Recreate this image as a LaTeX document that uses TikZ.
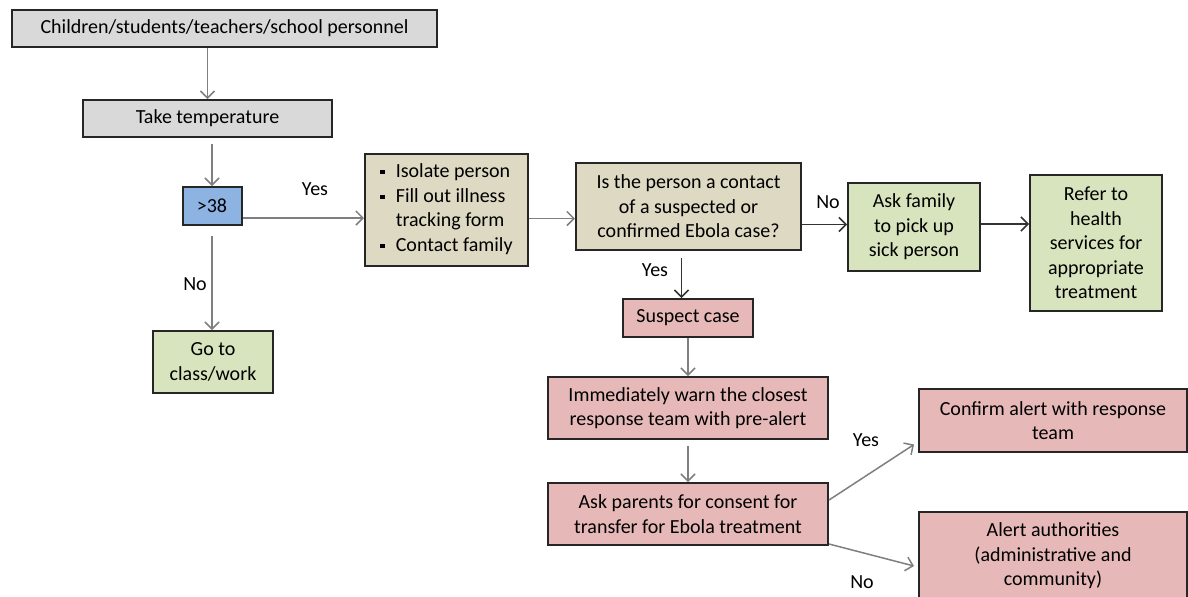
\documentclass[tikz,border=0pt]{standalone}
\usepackage{fontspec}
\setmainfont{Carlito}
\usetikzlibrary{arrows.meta}
\usetikzlibrary{positioning}
\definecolor{BoxGray}{HTML}{D9D9D9}
\definecolor{BoxBlue}{HTML}{8DB3E2}
\definecolor{BoxTan}{HTML}{DDD9C3}
\definecolor{BoxGreen}{HTML}{D7E4BD}
\definecolor{BoxPink}{HTML}{E6B9B8}
\definecolor{LineGray}{HTML}{7F7F7F}
\newcommand{\sqbul}{\raisebox{1.6pt}{\rule{2.2pt}{2.2pt}}}
\tikzset{
  flowbox/.style={draw=black!85, line width=1pt, align=center, inner sep=1pt,
    font=\fontsize{10}{12.3}\selectfont},
  graybox/.style={flowbox, fill=BoxGray},
  bluebox/.style={flowbox, fill=BoxBlue},
  tanbox/.style={flowbox, fill=BoxTan},
  greenbox/.style={flowbox, fill=BoxGreen},
  pinkbox/.style={flowbox, fill=BoxPink},
  answer/.style={font=\fontsize{10}{12.3}\selectfont, inner sep=0pt},
  flowarrow/.style={LineGray, line width=0.75pt, -{Straight Barb[length=3.5pt,width=7pt]}},
  darkarrow/.style={flowarrow, draw=black!80}
}

\begin{document}
\begin{tikzpicture}[x=0.5pt, y=-0.5pt]
  \useasboundingbox (0,0) rectangle (1188,596);
  \clip (0,0) rectangle (1188,596);

  % left column
  \node[graybox, minimum width=212.5pt, minimum height=18.5pt] (people) at (224.5,28.5)
    {Children/students/teachers/school personnel};
  \node[graybox, minimum width=124.5pt, minimum height=18.5pt] (temp) at (207.5,118.5)
    {Take temperature};
  \node[bluebox, minimum width=29.5pt, minimum height=19pt] (fever) at (212,206) {>38};
  \node[greenbox, minimum width=60pt, minimum height=31pt] (class) at (213,362)
    {Go to\\class/work};

  % isolation and question
  \node[tanbox, minimum width=81.5pt, minimum height=56pt] (isolate) at (446.5,209.5)
    {\begin{tabular}{@{}l@{\hspace{5.5pt}}l@{}}
       \sqbul & Isolate person\\
       \sqbul & Fill out illness\\
              & tracking form\\
       \sqbul & Contact family
     \end{tabular}};
  \node[tanbox, minimum width=112.5pt, minimum height=43.5pt] (contact) at (688.5,206.5)
    {Is the person a contact\\of a suspected or\\confirmed Ebola case?};
  \node[greenbox, minimum width=66pt, minimum height=44pt] (family) at (914,227)
    {Ask family\\to pick up\\sick person};
  \node[greenbox, minimum width=66pt, minimum height=68pt] (refer) at (1096,243)
    {Refer to\\health\\services for\\appropriate\\treatment};

  % suspect case branch
  \node[pinkbox, minimum width=65pt, minimum height=19pt] (suspect) at (688,318)
    {Suspect case};
  \node[pinkbox, minimum width=140pt, minimum height=31pt] (warn) at (688,408)
    {Immediately warn the closest\\response team with pre-alert};
  \node[pinkbox, minimum width=140pt, minimum height=31pt] (consent) at (688,514)
    {Ask parents for consent for\\transfer for Ebola treatment};
  \node[pinkbox, minimum width=134pt, minimum height=31.5pt] (confirm) at (1053,420.5)
    {Confirm alert with response\\team};
  \node[pinkbox, minimum width=134pt, minimum height=44pt] (authorities) at (1053,556)
    {Alert authorities\\(administrative and\\community)};

  % answers
  \node[answer] (feveryes) at (315,189) {Yes};
  \node[answer] (feverno) at (195,284) {No};
  \node[answer] (contactyes) at (655,270) {Yes};
  \node[answer] (contactno) at (828,202) {No};
  \node[answer] (consentyes) at (866,440) {Yes};
  \node[answer] (consentno) at (862,582) {No};

  % connectors
  \draw[flowarrow] (people.south -| temp.north) -- (temp.north);
  \draw[flowarrow] ([yshift=-3pt]temp.south -| fever.north) -- (fever.north);
  \draw[flowarrow] ([yshift=-5pt]fever.south) -- (fever.south |- class.north);
  \draw[flowarrow] ([yshift=-6pt]fever.east) -- ([yshift=-6pt]fever.east -| isolate.west);
  \draw[flowarrow] ([yshift=-4.5pt]isolate.east) -- ([yshift=-4.5pt]isolate.east -| contact.west);
  \draw[darkarrow] ([yshift=-9pt]contact.east) -- ([yshift=-9pt]contact.east -| family.west);
  \draw[darkarrow] ([xshift=-3.5pt,yshift=-3.5pt]contact.south) -- ([xshift=-3.5pt]contact.south |- suspect.north);
  \draw[darkarrow] ([yshift=1.5pt]family.east) -- ([yshift=1.5pt]family.east -| refer.west);
  \draw[flowarrow] (suspect.south) -- (warn.north);
  \draw[flowarrow] ([yshift=-3pt]warn.south) -- (consent.north);
  \draw[flowarrow] ([yshift=7pt]consent.east) -- ([xshift=-2pt,yshift=-12pt]confirm.west);
  \draw[flowarrow] ([yshift=-15pt]consent.east) -- ([xshift=-2pt,yshift=-5pt]authorities.west);
\end{tikzpicture}
\end{document}
